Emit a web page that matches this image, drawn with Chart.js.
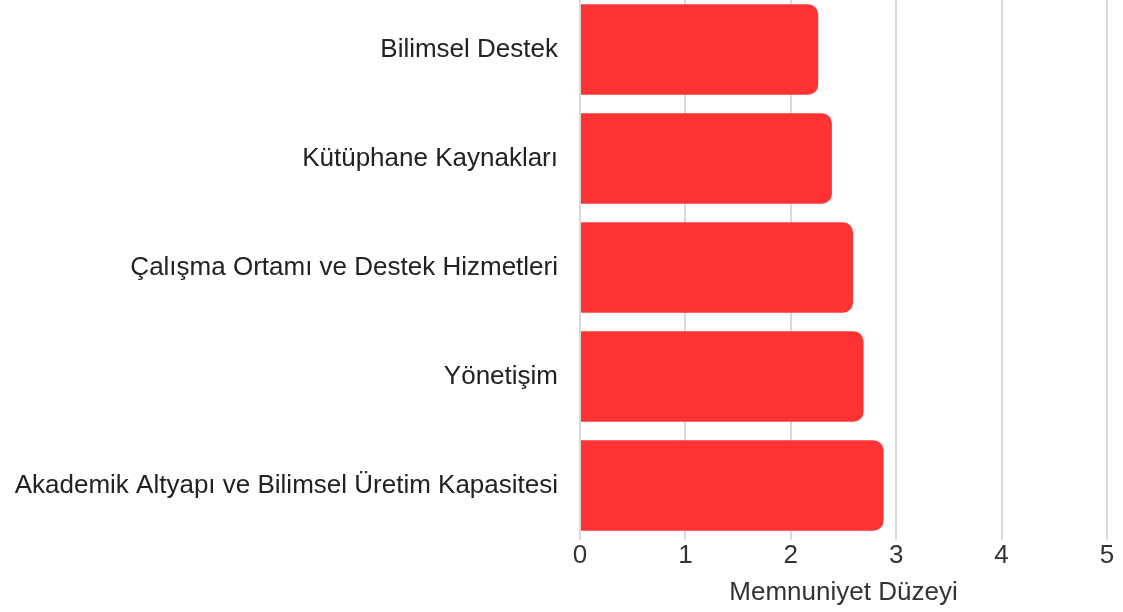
<!DOCTYPE html>
<html>
<head>
<meta charset="utf-8">
<title>Memnuniyet Düzeyi</title>
<script src="https://cdn.jsdelivr.net/npm/chart.js"></script>
<style>
  html, body { margin:0; padding:0; background:#fff; overflow:hidden; }
  #wrap { position:relative; width:1123px; height:617px; margin-top:-5px; }
</style>
</head>
<body>
<div id="wrap"><canvas id="chart"></canvas></div>
<script>
// data
const categories = [
  "Bilimsel Destek",
  "Kütüphane Kaynakları",
  "Çalışma Ortamı ve Destek Hizmetleri",
  "Yönetişim",
  "Akademik Altyapı ve Bilimsel Üretim Kapasitesi"
];
const scores = [2.26, 2.39, 2.59, 2.69, 2.88];
const xTicks = [0, 1, 2, 3, 4, 5];
const xTitle = "Memnuniyet Düzeyi";

const font = "'Liberation Sans', Arial, sans-serif";

new Chart(document.getElementById("chart"), {
  type: "bar",
  data: {
    labels: categories,
    datasets: [{
      data: scores,
      backgroundColor: "#ff3333",
      borderRadius: 10,
      borderSkipped: "start",
      categoryPercentage: 1,
      barPercentage: 0.83
    }]
  },
  options: {
    indexAxis: "y",
    responsive: true,
    maintainAspectRatio: false,
    animation: false,
    layout: { padding: { top: 0, right: 16, left: 0, bottom: 0 } },
    plugins: { legend: { display: false }, tooltip: { enabled: false } },
    scales: {
      x: {
        min: xTicks[0],
        max: xTicks[xTicks.length - 1],
        afterBuildTicks: (s) => { s.ticks = xTicks.map(v => ({ value: v })); },
        afterFit: (s) => { s.height = 72; },
        border: { display: false },
        grid: { color: "#d9d9d9", lineWidth: 2, drawTicks: false },
        ticks: { color: "#333", padding: 0, font: { family: font, size: 26 } },
        title: {
          display: true, text: xTitle, color: "#333",
          font: { family: font, size: 26 }, padding: { top: 0, bottom: 4 }
        }
      },
      y: {
        // keep the label gap from pushing the plot area down
        afterFit: (s) => { s.width = 580; s.paddingTop = 0; s.paddingBottom = 0; },
        border: { display: false },
        grid: { display: false, drawTicks: false },
        ticks: { color: "#222", padding: 22, font: { family: font, size: 26 } }
      }
    }
  }
});
</script>
</body>
</html>
